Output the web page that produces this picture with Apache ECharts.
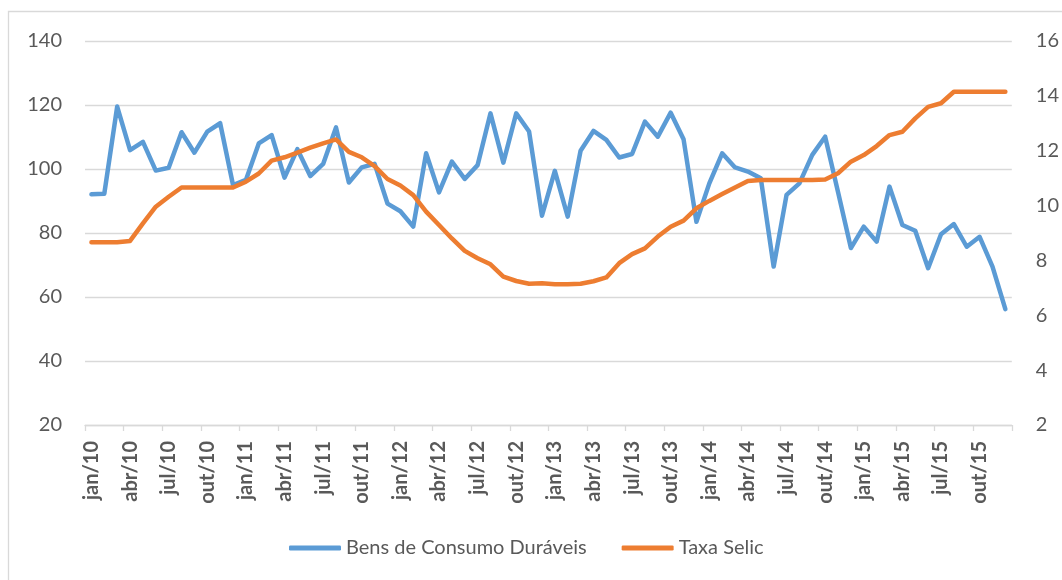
<!DOCTYPE html>
<html>
<head>
    <meta charset="UTF-8">
    <title>Bens de Consumo Duráveis x Taxa Selic</title>
</head>
<style>
    html, body { margin: 0; padding: 0; background: #fff; }
    #chart { width: 1062px; height: 580px; }
</style>
<body>
<div id="chart"></div>
<script type="text/javascript" src="https://cdn.jsdelivr.net/npm/echarts@6/dist/echarts.min.js"></script>
<script>
    // meses jan/10 .. dez/15
    var monthNames = ['jan', 'fev', 'mar', 'abr', 'mai', 'jun', 'jul', 'ago', 'set', 'out', 'nov', 'dez'];
    var years = ['10', '11', '12', '13', '14', '15'];

    var bensDuraveis = [
        92.1, 92.3, 119.5, 105.9, 108.5, 99.5, 100.4, 111.5, 105.1, 111.7, 114.3, 95.0,
        96.6, 108.0, 110.6, 97.3, 106.2, 97.8, 101.6, 113.0, 95.8, 100.5, 101.6, 89.2,
        86.8, 82.0, 104.9, 92.7, 102.3, 96.9, 101.2, 117.4, 102.0, 117.4, 111.7, 85.4,
        99.4, 85.1, 105.7, 111.9, 109.1, 103.6, 104.7, 114.8, 110.1, 117.6, 109.3, 83.5,
        95.5, 104.9, 100.5, 99.2, 97.1, 69.5, 91.9, 95.5, 104.4, 110.1, 92.8, 75.3,
        82.0, 77.3, 94.5, 82.5, 80.7, 69.0, 79.6, 82.8, 75.7, 78.8, 69.5, 56.2
    ];
    var taxaSelic = [
        8.66, 8.66, 8.66, 8.71, 9.35, 9.96, 10.32, 10.66, 10.66, 10.66, 10.66, 10.66,
        10.87, 11.17, 11.64, 11.76, 11.93, 12.11, 12.27, 12.41, 11.96, 11.76, 11.44, 10.97,
        10.73, 10.38, 9.78, 9.29, 8.80, 8.35, 8.08, 7.86, 7.41, 7.25, 7.15, 7.17,
        7.13, 7.13, 7.15, 7.24, 7.38, 7.90, 8.23, 8.44, 8.87, 9.23, 9.45, 9.90,
        10.17, 10.42, 10.66, 10.90, 10.93, 10.93, 10.93, 10.93, 10.93, 10.95, 11.18, 11.60,
        11.84, 12.17, 12.57, 12.69, 13.18, 13.60, 13.73, 14.15, 14.15, 14.15, 14.15, 14.15
    ];
    var leftTicks = {min: 20, max: 140, step: 20};
    var rightTicks = {min: 2, max: 16, step: 2};

    var categories = [];
    years.forEach(function (y) {
        monthNames.forEach(function (m) { categories.push(m + '/' + y); });
    });

    var grey = '#595959';
    var lineGrey = '#d9d9d9';
    var font = 'Lato';

    var draw = echarts.init(document.getElementById('chart'));
    var option = {
        animation: false,
        backgroundColor: '#fff',
        textStyle: {fontFamily: font},
        graphic: [{
            type: 'rect',
            shape: {x: 8.5, y: 11.5, width: 1100, height: 620},
            style: {fill: null, stroke: lineGrey, lineWidth: 1.3},
            silent: true
        }],
        grid: {left: 85, right: 50, top: 41, bottom: 155},
        legend: {
            bottom: 17,
            left: 284,
            icon: 'roundRect',
            itemWidth: 52,
            itemHeight: 5,
            itemGap: 35,
            textStyle: {color: grey, fontSize: 20, fontFamily: font},
            data: ['Bens de Consumo Duráveis', 'Taxa Selic']
        },
        xAxis: {
            type: 'category',
            data: categories,
            boundaryGap: true,
            axisLine: {lineStyle: {color: lineGrey, width: 1.3}},
            axisTick: {show: true, interval: 2, length: 6, lineStyle: {color: lineGrey, width: 1.3}},
            axisLabel: {
                interval: 2,
                rotate: 90,
                margin: 16,
                color: grey,
                fontSize: 20,
                fontWeight: 'bold',
                fontFamily: font
            }
        },
        yAxis: [{
            type: 'value',
            min: leftTicks.min,
            max: leftTicks.max,
            interval: leftTicks.step,
            axisLine: {show: false},
            axisTick: {show: false},
            splitLine: {lineStyle: {color: lineGrey, width: 1.3}},
            axisLabel: {color: grey, fontSize: 20, margin: 23, fontFamily: font}
        }, {
            type: 'value',
            position: 'right',
            min: rightTicks.min,
            max: rightTicks.max,
            interval: rightTicks.step,
            axisLine: {show: false},
            axisTick: {show: false},
            splitLine: {show: false},
            axisLabel: {color: grey, fontSize: 20, margin: 24, fontFamily: font}
        }],
        series: [{
            name: 'Bens de Consumo Duráveis',
            type: 'line',
            yAxisIndex: 0,
            data: bensDuraveis,
            symbol: 'none',
            color: '#5B9BD5',
            lineStyle: {width: 4.5, color: '#5B9BD5', cap: 'round', join: 'round'}
        }, {
            name: 'Taxa Selic',
            type: 'line',
            yAxisIndex: 1,
            data: taxaSelic,
            symbol: 'none',
            color: '#ED7D31',
            lineStyle: {width: 4.5, color: '#ED7D31', cap: 'round', join: 'round'}
        }]
    };
    draw.setOption(option);
</script>
</body>
</html>
